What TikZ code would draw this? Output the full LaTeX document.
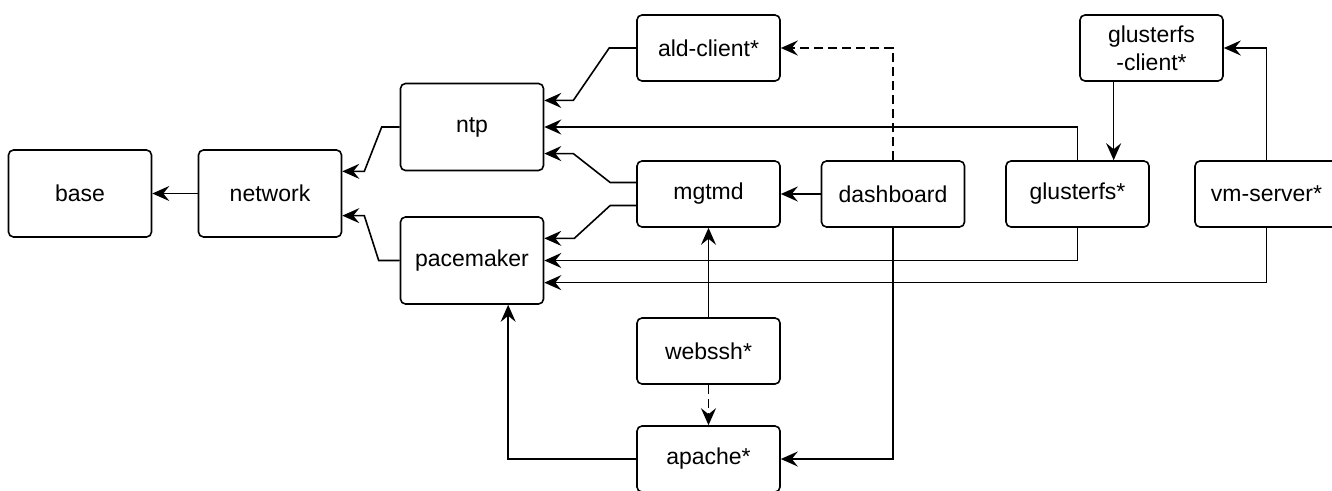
\documentclass[tikz,border=0pt]{standalone}
\usepackage{fontspec}
\setmainfont{Liberation Sans}
\usetikzlibrary{arrows.meta,calc}
\begin{document}
\begin{tikzpicture}[x=1pt,y=-1pt,line width=1.6pt]
  \tikzstyle{box}=[draw,rounded corners=5pt,minimum width=143pt,minimum height=66pt,
    align=center,inner sep=0pt,font=\fontsize{23}{28}\selectfont]
  \tikzstyle{tall}=[box,minimum height=87pt]
  \tikzstyle{dep}=[-{Stealth[length=17pt,width=15pt,inset=6pt]}]
  \tikzstyle{opt}=[dep,dash pattern=on 9pt off 5pt]
  \useasboundingbox (0,0) rectangle (1332,490);

  \node[tall] (base) at (80,193.5) {base};
  \node[tall] (network) at (270,193.5) {network};
  \node[tall] (ntp) at (472,127) {ntp};
  \node[tall] (pacemaker) at (472,260.5) {pacemaker};
  \node[box] (ald) at (708.5,48) {ald-client*};
  \node[box] (mgtmd) at (708.5,194) {mgtmd};
  \node[box] (dashboard) at (893,194) {dashboard};
  \node[box] (glusterfs) at (1077.5,194) {glusterfs*};
  \node[box] (gclient) at (1151.5,48) {glusterfs\\-client*};
  \node[box] (vmserver) at (1266.5,194) {vm-server*};
  \node[box] (webssh) at (708.5,351) {webssh*};
  \node[box] (apache) at (708.5,459) {apache*};

  \coordinate (nw1) at ($(network.north east)!.25!(network.south east)$);
  \coordinate (nw3) at ($(network.north east)!.75!(network.south east)$);
  \coordinate (ntp1) at ($(ntp.north east)!.2!(ntp.south east)$);
  \coordinate (ntp3) at ($(ntp.north east)!.8!(ntp.south east)$);
  \coordinate (pm1) at ($(pacemaker.north east)!.25!(pacemaker.south east)$);
  \coordinate (pm3) at ($(pacemaker.north east)!.75!(pacemaker.south east)$);
  \coordinate (pmb) at ($(pacemaker.south west)!.75!(pacemaker.south east)$);
  \coordinate (mg1) at ($(mgtmd.north west)!.33!(mgtmd.south west)$);
  \coordinate (mg2) at ($(mgtmd.north west)!.67!(mgtmd.south west)$);
  \coordinate (gf3) at ($(glusterfs.north west)!.75!(glusterfs.north east)$);

  \draw[dep] (network) -- (base);
  \draw[dep] (ntp.west) -- ++(-18,0) -- ([xshift=22pt]nw1) -- (nw1);
  \draw[dep] (pacemaker.west) -- ++(-21,0) -- ([xshift=22pt]nw3) -- (nw3);
  \draw[dep] (ald.west) -- ++(-27,0) -- ([xshift=29pt]ntp1) -- (ntp1);
  \draw[dep] (mg1) -- ++(-26,0) -- ([xshift=29pt]ntp3) -- (ntp3);
  \draw[dep] (mg2) -- ++(-26,0) -- ([xshift=30pt]pm1) -- (pm1);
  \draw[dep] (glusterfs.north) |- (ntp.east);
  \draw[dep] (glusterfs.south) |- (pacemaker.east);
  \draw[dep] (vmserver.south) |- (pm3);
  \draw[dep] (dashboard) -- (mgtmd);
  \draw[opt] (dashboard.north) |- (ald.east);
  \draw[dep] (gclient.south -| gf3) -- (gf3);
  \draw[dep] (vmserver.north) |- (gclient.east);
  \draw[dep] (webssh) -- (mgtmd);
  \draw[opt] (webssh) -- (apache);
  \draw[dep] (apache.west) -| (pmb);
  \draw[dep] (dashboard.south) |- (apache.east);
\end{tikzpicture}
\end{document}
